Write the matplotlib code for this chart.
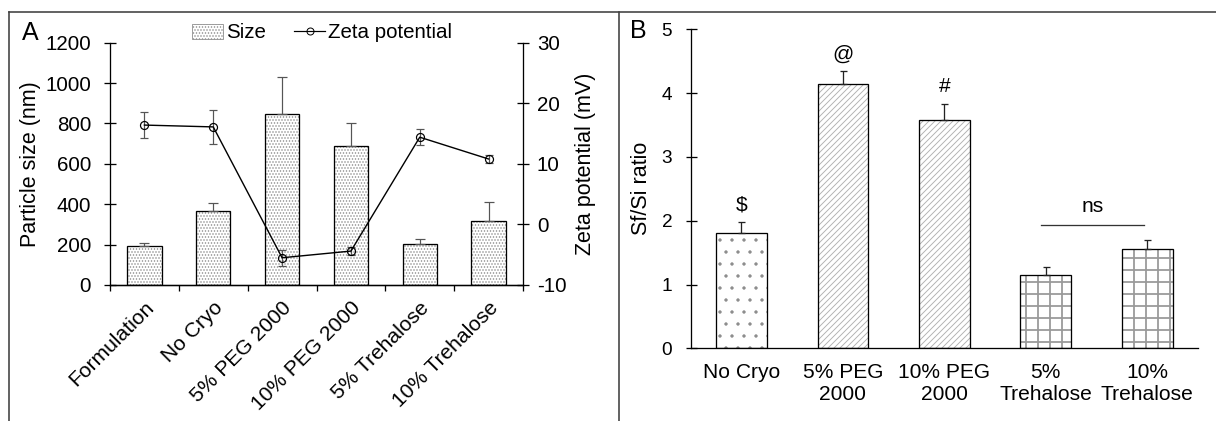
import matplotlib
matplotlib.use("Agg")
import matplotlib.pyplot as plt
from matplotlib.lines import Line2D
from matplotlib.patches import Patch
from matplotlib.transforms import ScaledTranslation
import numpy as np

# ---- data ----
formulations = ["Formulation", "No Cryo", "5% PEG 2000", "10% PEG 2000",
                "5% Trehalose", "10% Trehalose"]
size_nm = [195, 365, 848, 686, 204, 317]
size_err = [12, 42, 180, 118, 25, 95]
zeta_mv = [16.4, 16.1, -5.5, -4.4, 14.4, 10.8]
zeta_err = [2.2, 2.8, 1.3, 0.7, 1.3, 0.6]

ratio_labels = ["No Cryo", "5% PEG\n2000", "10% PEG\n2000", "5%\nTrehalose", "10%\nTrehalose"]
sf_si_ratio = [1.80, 4.15, 3.58, 1.15, 1.56]
sf_si_err = [0.18, 0.20, 0.25, 0.13, 0.13]
sig_marks = ["$", "@", "#", "", ""]
ns_pair = (3, 4)
ns_level = 1.94

# dpi 72 so that 1 pt == 1 px
DPI = 72
W, H = 1216, 421
plt.rcParams["font.family"] = ["Liberation Sans", "DejaVu Sans"]
plt.rcParams["hatch.linewidth"] = 0.9
plt.rcParams["axes.linewidth"] = 1.3
plt.rcParams["axes.unicode_minus"] = False

fig = plt.figure(figsize=(W / DPI, H / DPI), dpi=DPI)


def fx(px):
    return px / W


def fy(py):
    return 1 - py / H


# ---- outer frame ----
frame_kw = dict(color="#404040", lw=1.6, transform=fig.transFigure, clip_on=False)
fig.add_artist(Line2D([fx(9), fx(W)], [fy(12), fy(12)], **frame_kw))
fig.add_artist(Line2D([fx(9), fx(9)], [fy(12), fy(H)], **frame_kw))
fig.add_artist(Line2D([fx(619), fx(619)], [fy(12), fy(H)], **frame_kw))

# ---- panel A ----
axA = fig.add_axes([fx(110), fy(285), fx(523) - fx(110), fy(42.7) - fy(285)])
xa = np.arange(len(formulations))
axA.bar(xa, size_nm, width=0.5, facecolor="white", edgecolor="#8a8a8a",
        hatch="....", lw=0, zorder=2)
axA.bar(xa, size_nm, width=0.5, facecolor="none", edgecolor="black", lw=1.3, zorder=3)
axA.errorbar(xa, size_nm, yerr=[np.zeros(len(size_err)), size_err], fmt="none",
             ecolor="#555555", elinewidth=1.2, capsize=5, capthick=1.2, zorder=4)
axA.set_xlim(-0.5, len(formulations) - 0.5)
axA.set_ylim(0, 1200)
axA.set_yticks(np.arange(0, 1201, 200))
axA.set_xticks(xa)
axA.set_xticks(np.arange(-0.5, len(formulations), 1.0), minor=True)
axA.set_xticklabels(formulations, rotation=45, ha="right", va="top",
                    rotation_mode="anchor", fontsize=21)
shift = ScaledTranslation(-4 / DPI, 0, fig.dpi_scale_trans)
for lbl in axA.get_xticklabels():
    lbl.set_transform(lbl.get_transform() + shift)
axA.tick_params(axis="x", which="major", length=0, pad=13)
axA.tick_params(axis="x", which="minor", length=6, width=1.3, direction="out")
axA.tick_params(axis="y", direction="inout", length=12, width=1.3, labelsize=20.5, pad=13)
axA.spines["top"].set_visible(False)
axA.spines["right"].set_visible(False)
axA.set_ylabel("Particle size (nm)", fontsize=21.5, labelpad=4)

axZ = axA.twinx()
axZ.errorbar(xa, zeta_mv, yerr=zeta_err, fmt="-o", color="black", lw=1.4,
             ms=8, mfc="none", mec="black", mew=1.2,
             ecolor="#555555", elinewidth=1.2, capsize=4, capthick=1.2, zorder=5)
axZ.set_ylim(-10, 30)
axZ.set_yticks(np.arange(-10, 31, 10))
axZ.tick_params(axis="y", direction="inout", length=12, width=1.3, labelsize=20.5, pad=8)
axZ.spines["top"].set_visible(False)
axZ.spines["left"].set_visible(False)
axZ.set_ylabel("Zeta potential (mV)", fontsize=21.5, labelpad=8)

legend_handles = [
    Patch(facecolor="white", edgecolor="#8a8a8a", hatch="....", lw=0.8),
    Line2D([], [], color="black", lw=1.2, marker="o", ms=7, mfc="none", mec="black"),
]
fig.legend(legend_handles, ["Size", "Zeta potential"], loc="center",
           bbox_to_anchor=(fx(322), fy(33)), ncol=2, frameon=False, fontsize=20.5,
           handlelength=1.5, handletextpad=0.15, columnspacing=1.4)
fig.text(fx(22), fy(33), "A", fontsize=25, va="center", ha="left")

# ---- panel B ----
axB = fig.add_axes([fx(690.7), fy(348.3), fx(1198) - fx(690.7), fy(29.3) - fy(348.3)])
xb = np.arange(len(ratio_labels))
hatches = [".", "////", "////", "+", "+"]
hatch_colors = ["#8a8a8a", "#b0b0b0", "#b0b0b0", "#9a9a9a", "#9a9a9a"]
hatch_widths = [0.9, 0.9, 0.9, 1.8, 1.8]
for i in range(len(xb)):
    with plt.rc_context({"hatch.linewidth": hatch_widths[i]}):
        axB.bar(xb[i], sf_si_ratio[i], width=0.5, facecolor="white",
                edgecolor=hatch_colors[i], hatch=hatches[i], lw=0, zorder=2)
axB.bar(xb, sf_si_ratio, width=0.5, facecolor="none", edgecolor="black", lw=1.3, zorder=3)
axB.errorbar(xb, sf_si_ratio, yerr=[np.zeros(len(sf_si_err)), sf_si_err], fmt="none",
             ecolor="#222222", elinewidth=1.3, capsize=3.5, capthick=1.3, zorder=4)
for i, mark in enumerate(sig_marks):
    if mark:
        axB.annotate(mark, (xb[i], sf_si_ratio[i] + sf_si_err[i]), xytext=(0, 17),
                     textcoords="offset points", ha="center", va="center", fontsize=21)
axB.plot([ns_pair[0] - 0.05, ns_pair[1] - 0.03], [ns_level, ns_level], color="#333333", lw=1.3)
axB.annotate("ns", ((ns_pair[0] + ns_pair[1]) / 2 - 0.04, ns_level), xytext=(0, 18),
             textcoords="offset points", ha="center", va="center", fontsize=21)
axB.set_xlim(-0.5, len(ratio_labels) - 0.5)
axB.set_ylim(0, 5)
axB.set_yticks(np.arange(0, 6, 1))
axB.set_xticks(xb)
axB.set_xticklabels(ratio_labels, fontsize=21, linespacing=1.15)
axB.tick_params(axis="x", length=0, pad=15)
axB.tick_params(axis="y", direction="inout", length=11, width=1.3, labelsize=19, pad=13)
axB.spines["top"].set_visible(False)
axB.spines["right"].set_visible(False)
axB.set_ylabel("Sf/Si ratio", fontsize=21.5, labelpad=10)
fig.text(fx(630), fy(31), "B", fontsize=25, va="center", ha="left")

fig.savefig("out.png", dpi=DPI)
